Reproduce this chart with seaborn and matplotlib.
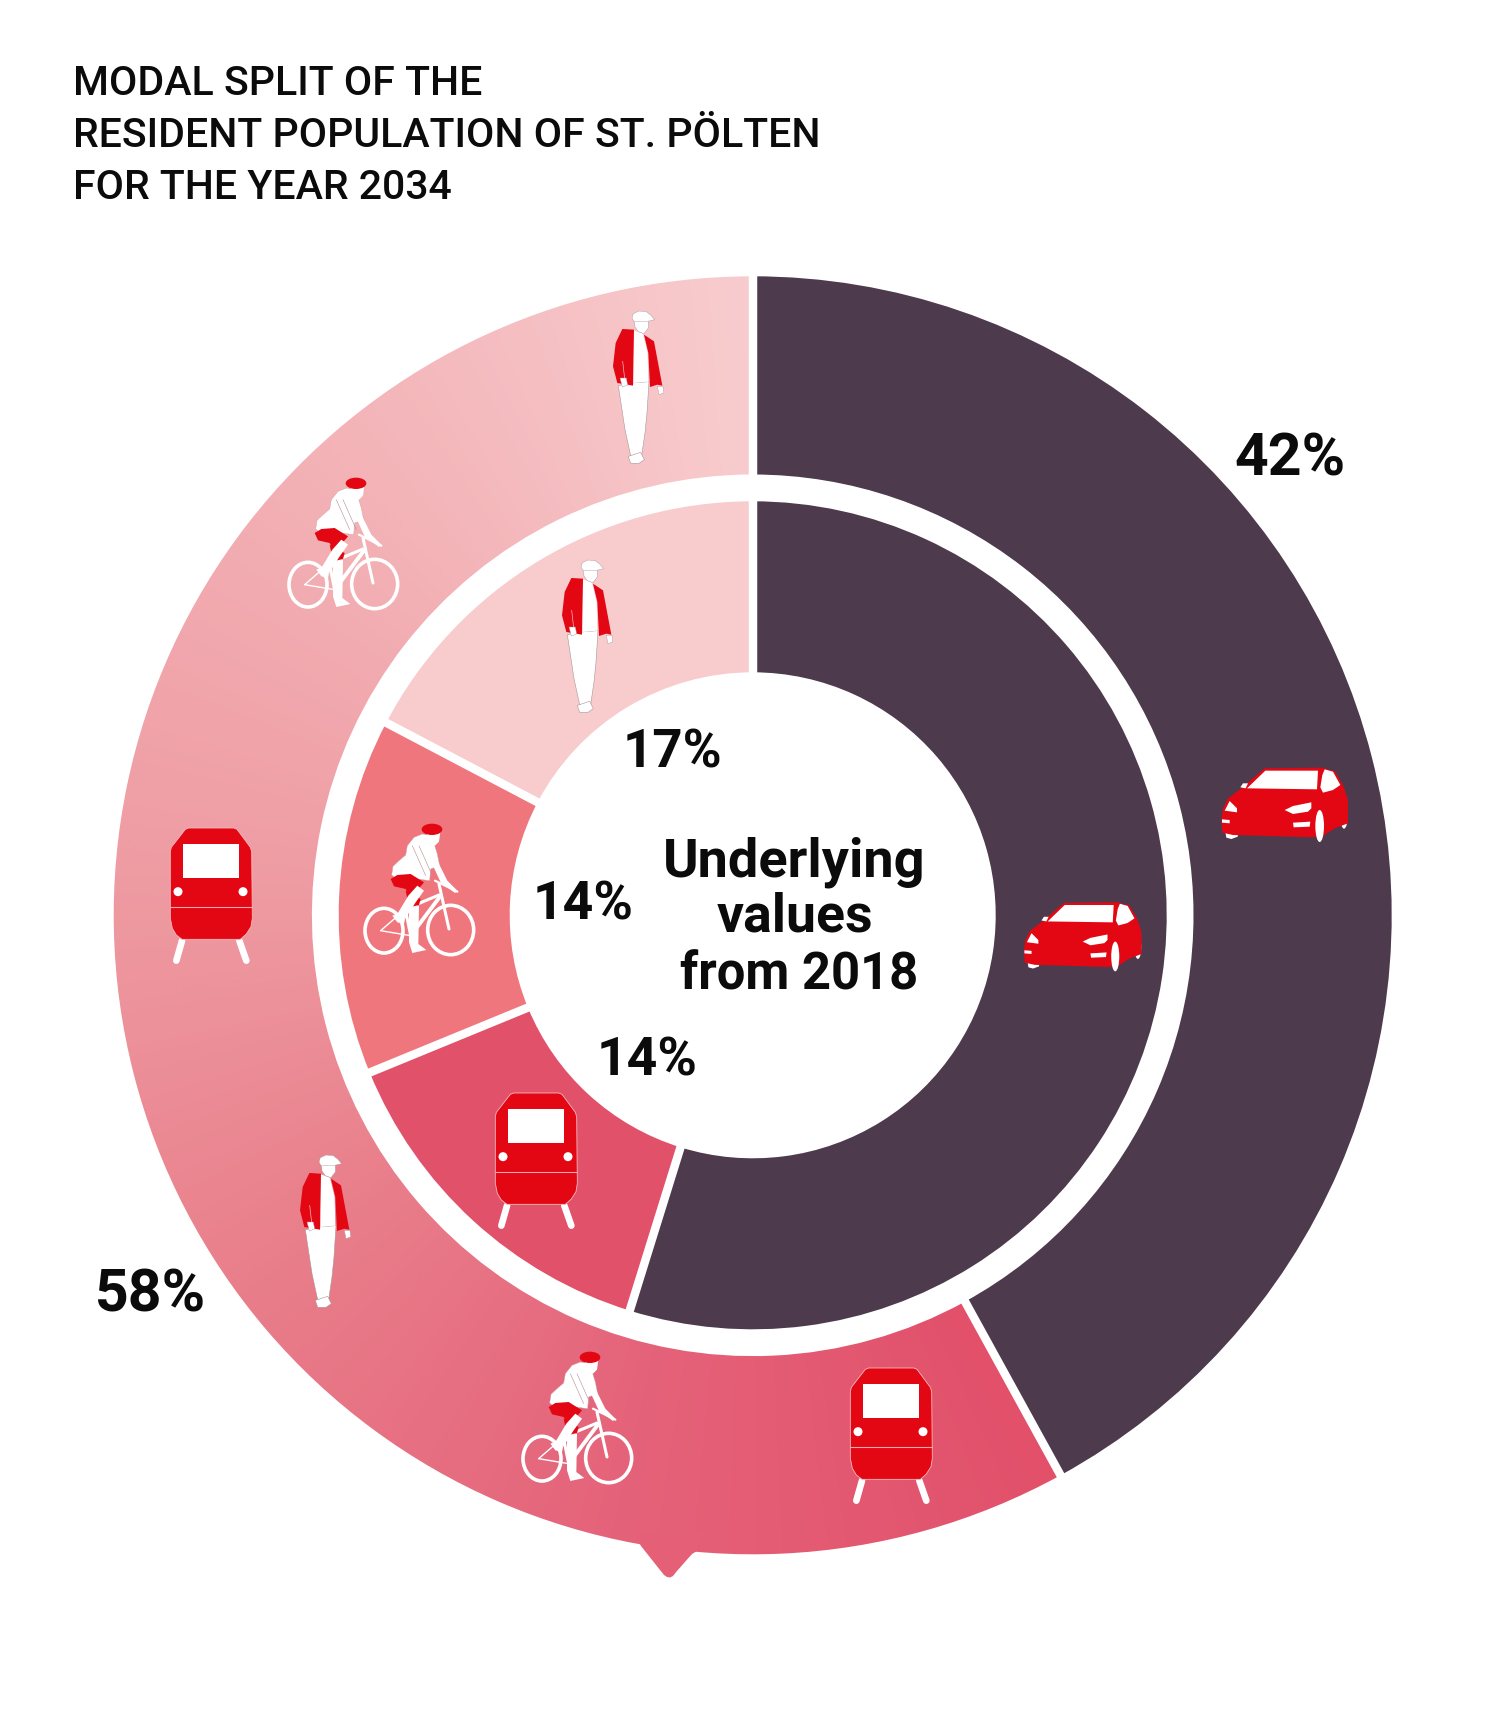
import numpy as np
import matplotlib
matplotlib.use("Agg")
import matplotlib.pyplot as plt
from matplotlib.patches import Polygon, Ellipse
import seaborn as sns

# ---- data ----
outer_categories = ["Car", "Walking, cycling, public transport"]
outer_values = [42, 58]
inner_categories = ["Car", "Public transport", "Cycling", "Walking"]
inner_values = [54.8, 14.0, 13.9, 17.3]
inner_labels = ["17%", "14%", "14%"]
outer_labels = ["42%", "58%"]
title_lines = ["MODAL SPLIT OF THE", "RESIDENT POPULATION OF ST. PÖLTEN", "FOR THE YEAR 2034"]
center_lines = ["Underlying", "values", "from 2018"]

DARK = "#4D3A4C"
RED = "#E30613"
INNER_COLORS = [DARK, "#E2516A", "#F0767E", "#F8CBCD"]
GRAD = ["#E2506A", "#E5637A", "#E97F8B", "#EF9DA4", "#F3B3B7", "#F8CCCE"]

W, H = 1500, 1721
sns.set_theme(style="white")
plt.rcParams["font.family"] = ["Roboto", "DejaVu Sans"]
fig = plt.figure(figsize=(W / 100, H / 100), dpi=100, facecolor="white")
ax = fig.add_axes([0, 0, 1, 1])

CX, CY = 752.7, H - 915.3
R_OUT, R_OUT_IN = 639, 440.8
R_IN, R_IN_IN = 414, 243

# ---- rings ----
cmap = sns.blend_palette(GRAD, n_colors=256, as_cmap=True)
outer_wedges, _ = ax.pie(outer_values, colors=[DARK, "none"], startangle=90, counterclock=False,
                         radius=R_OUT, center=(CX, CY),
                         wedgeprops=dict(width=R_OUT - R_OUT_IN, linewidth=0))
ax.pie(inner_values, colors=INNER_COLORS, startangle=90, counterclock=False,
       radius=R_IN, center=(CX, CY),
       wedgeprops=dict(width=R_IN - R_IN_IN, linewidth=0))

# gradient running along the arc of the second outer segment
start = outer_values[0] / sum(outer_values) * 360
xx, yy = np.meshgrid(np.arange(CX - R_OUT - 2, CX + R_OUT + 2, 1.0),
                     np.arange(CY - R_OUT - 2, CY + R_OUT + 2, 1.0))
ang = np.degrees(np.arctan2(xx - CX, yy - CY)) % 360
frac = np.clip((ang - start) / (360 - start), 0, 1)
im = ax.imshow(frac, cmap=cmap, vmin=0, vmax=1, origin="lower", interpolation="bilinear",
               extent=(xx.min(), xx.max(), yy.min(), yy.max()), zorder=1)
im.set_clip_path(outer_wedges[1])

# bubble tail of the outer ring
tail_frac = (187 - start) / (360 - start)
tail = [(636, 1533), (638, 1541), (641, 1546), (660, 1570), (664, 1575), (667, 1577), (670, 1577.5), (673, 1576),
        (677, 1571), (692, 1554), (697, 1551), (702, 1533)]
ax.add_patch(Polygon([(x, H - y) for x, y in tail], closed=True, fc=cmap(tail_frac), ec="none", zorder=1))


def separators(values, r0, r1):
    angles = np.cumsum([0] + list(values)) / sum(values) * 2 * np.pi
    for a in angles[:-1]:
        ax.plot([CX + r0 * np.sin(a), CX + r1 * np.sin(a)], [CY + r0 * np.cos(a), CY + r1 * np.cos(a)],
                color="white", lw=6.1, solid_capstyle="butt", zorder=2)


separators(outer_values, R_OUT_IN - 3, R_OUT + 3)
separators(inner_values, R_IN_IN - 3, R_IN + 3)


# ---- pictograms: shapes given in crop-pixel units around a local centre ----
class Icon:
    def __init__(self, px, py, ox, oy, k):
        self.px, self.py, self.ox, self.oy, self.k = px, py, ox, oy, k

    def pts(self, p):
        return [(self.px + (x - self.ox) * self.k, H - (self.py + (y - self.oy) * self.k)) for x, y in p]

    def poly(self, p, fc, ec="none", lw=0, z=3):
        ax.add_patch(Polygon(self.pts(p), closed=True, fc=fc, ec=ec, lw=lw, zorder=z, joinstyle="round"))

    def line(self, a, b, color="white", lw=1.5, z=3):
        q = self.pts([a, b])
        ax.plot([q[0][0], q[1][0]], [q[0][1], q[1][1]], color=color, lw=lw, zorder=z, solid_capstyle="round")

    def ell(self, c, w, h, fc, ec="none", lw=0, z=3, ang=0):
        q = self.pts([c])[0]
        ax.add_patch(Ellipse(q, w * self.k, h * self.k, angle=ang, fc=fc, ec=ec, lw=lw, zorder=z))


def train(px, py):
    i = Icon(px, py, 152, 225, 1 / 3)
    i.line((65, 362), (48, 422), lw=4.8)
    i.line((237, 362), (258, 422), lw=4.8)
    i.poly([(30, 95), (33, 82), (75, 28), (85, 24), (220, 24), (230, 28), (270, 82), (274, 95), (276, 295),
            (272, 320), (258, 342), (240, 358), (65, 358), (48, 345), (36, 325), (30, 295)], RED,
           ec="#F6B9BE", lw=0.6)
    i.poly([(68, 71), (237, 71), (237, 174), (68, 174)], "white")
    i.ell((53, 215), 27, 27, "white")
    i.ell((248, 215), 27, 27, "white")
    i.line((30, 262), (275, 262), color="#F6A9AE", lw=0.8)


def car(px, py, k):
    i = Icon(px, py, 856, 312, k)
    i.poly([(677, 395), (716, 395), (714, 410), (695, 417), (680, 413)], "white")
    i.ell((1033, 348), 22, 76, "white")
    i.poly([(665, 360), (670, 325), (685, 295), (725, 265), (795, 205), (965, 203), (1005, 213), (1030, 255),
            (1045, 300), (1045, 370), (1005, 385), (975, 405), (940, 412), (700, 405), (668, 398)], RED)
    i.ell((960, 378), 26, 96, "white")
    i.poly([(742, 265), (797, 212), (955, 212), (952, 268)], "white")
    i.poly([(968, 225), (975, 208), (1000, 215), (1022, 255), (1000, 270), (970, 278), (962, 262)], "white")
    i.poly([(722, 262), (730, 250), (745, 250), (738, 265)], "white")
    i.poly([(675, 332), (690, 303), (712, 325), (712, 337)], "white")
    i.poly([(855, 330), (880, 318), (935, 307), (935, 325), (925, 335), (880, 342)], "white")
    i.poly([(667, 358), (690, 360), (690, 370), (667, 368)], "white")
    i.poly([(880, 368), (932, 365), (930, 380), (882, 382)], "white")


def walker(px, py):
    i = Icon(px, py, 147, 262, 1 / 3)
    grey = "#A89698"
    i.poly([(88, 258), (130, 250), (180, 246), (174, 340), (168, 400), (158, 468), (125, 468), (108, 390)],
           "white", ec=grey, lw=0.4)
    i.poly([(118, 470), (155, 458), (166, 480), (150, 491), (125, 491)], "white", ec=grey, lw=0.4)
    i.poly([(130, 90), (162, 102), (176, 160), (178, 246), (133, 250)], "white")
    i.poly([(100, 88), (135, 90), (132, 258), (85, 250), (72, 200), (80, 130)], RED)
    i.poly([(165, 105), (195, 125), (220, 258), (205, 255), (183, 262), (178, 160)], RED)
    i.line((101, 185), (108, 245), color="#F7B8BC", lw=0.5)
    i.poly([(205, 260), (222, 260), (224, 280), (210, 285)], "white", ec=grey, lw=0.3)
    i.poly([(93, 235), (112, 235), (116, 256), (100, 262)], "white", ec=grey, lw=0.3)
    i.poly([(136, 62), (178, 60), (178, 85), (165, 102), (148, 96), (138, 82)], "white", ec=grey, lw=0.3)
    i.poly([(129, 55), (133, 42), (150, 34), (172, 36), (185, 46), (197, 60), (172, 66), (135, 66)],
           "white", ec=grey, lw=0.3)


def cyclist(px, py):
    i = Icon(px, py, 193, 220, 1 / 3)
    i.ell((85, 345), 114, 134, "none", ec="white", lw=2.6)
    i.ell((285, 343), 138, 148, "none", ec="white", lw=2.6)
    i.line((75, 345), (165, 360), lw=1.0)
    i.line((75, 345), (150, 280), lw=1.0)
    i.line((165, 360), (255, 240), lw=2.8)
    i.line((150, 280), (250, 238), lw=2.2)
    i.line((148, 275), (165, 360), lw=2.2)
    i.line((250, 205), (280, 340), lw=2.2)
    i.line((238, 195), (305, 228), lw=1.6)
    # far leg
    i.poly([(160, 275), (190, 270), (188, 385), (212, 403), (170, 412), (160, 380)], "white")
    i.poly([(150, 225), (195, 250), (190, 268), (160, 275)], RED)
    # torso
    i.poly([(108, 178), (112, 152), (130, 135), (150, 118), (155, 90), (175, 65), (200, 55), (228, 60),
            (245, 115), (252, 150), (225, 160), (222, 195), (170, 188), (125, 192)], "white", ec="#C9A0A4", lw=0.3)
    i.line((170, 90), (210, 180), color="#B88A90", lw=0.4)
    i.line((190, 90), (230, 180), color="#B88A90", lw=0.4)
    # head + helmet
    i.poly([(212, 48), (254, 48), (250, 78), (238, 90), (222, 88)], "white")
    i.ell((229, 41), 62, 34, RED)
    # arm
    i.poly([(232, 150), (250, 145), (275, 195), (305, 225), (298, 232), (255, 200)], "white")
    # shorts + front leg
    i.poly([(105, 190), (125, 178), (165, 175), (205, 200), (195, 212), (160, 240), (150, 220), (115, 212)], RED)
    i.poly([(158, 240), (185, 210), (205, 225), (180, 260), (148, 310), (125, 295)], "white")
    i.poly([(110, 300), (135, 290), (148, 310), (145, 325), (125, 320)], "white")


for x, y in [(211, 895), (536, 1160), (891, 1435)]:
    train(x, y)
car(1285, 804, 1 / 3)
car(1083, 936, 0.31)
for x, y in [(638, 387), (587, 636), (325, 1231)]:
    walker(x, y)
for x, y in [(344, 543), (420, 889), (578, 1417)]:
    cyclist(x, y)

# ---- text ----
INK = "#0B0B0B"
for line, base in zip(title_lines, [95, 147, 199]):
    ax.text(73, H - base, line, fontsize=29.5, fontweight=500, color=INK, ha="left", va="baseline", zorder=4)
for label, x, base, size in [(outer_labels[0], 1290, 476, 42.5), (outer_labels[1], 151, 1311, 42.5),
                             (inner_labels[0], 672, 768, 38), (inner_labels[1], 583, 920, 38.5),
                             (inner_labels[2], 647, 1075, 38.5)]:
    ax.text(x, H - base, label, fontsize=size, fontweight=600, color=INK, ha="center", va="baseline", zorder=4)
for line, x, base, size in zip(center_lines, [794.5, 794.5, 799], [877, 932, 990], [39, 38.5, 36.5]):
    ax.text(x, H - base, line, fontsize=size, fontweight=600, color=INK, ha="center", va="baseline", zorder=4)

ax.set_xlim(0, W)
ax.set_ylim(0, H)
ax.set_aspect("auto")
ax.axis("off")
fig.savefig("out.png", dpi=100, facecolor="white")
